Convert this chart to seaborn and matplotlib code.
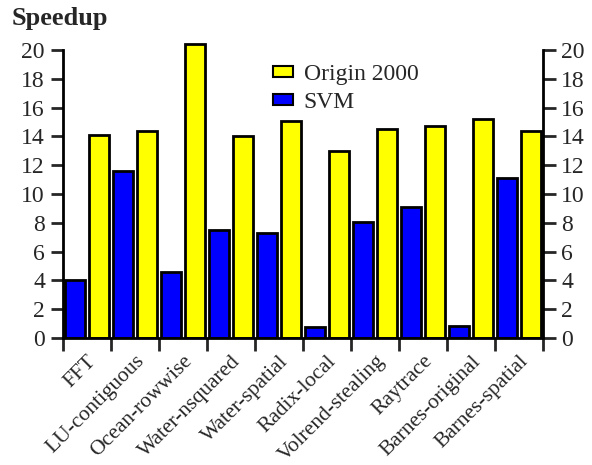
import numpy as np
import pandas as pd
import matplotlib
matplotlib.use('Agg')
import matplotlib.pyplot as plt
import seaborn as sns
from matplotlib.patches import Patch

apps = ['FFT', 'LU-contiguous', 'Ocean-rowwise', 'Water-nsquared', 'Water-spatial',
        'Radix-local', 'Volrend-stealing', 'Raytrace', 'Barnes-original', 'Barnes-spatial']
svm = [4.0, 11.6, 4.6, 7.5, 7.3, 0.75, 8.05, 9.1, 0.85, 11.1]
origin = [14.1, 14.35, 20.45, 14.0, 15.1, 13.0, 14.5, 14.75, 15.2, 14.35]

df = pd.DataFrame({'app': apps * 2,
                   'speedup': svm + origin,
                   'system': ['SVM'] * len(apps) + ['Origin 2000'] * len(apps)})

sns.set_style('white')
plt.rcParams['font.family'] = ['Liberation Serif', 'DejaVu Serif']
fs = 17

fig = plt.figure(figsize=(5.92, 4.65), dpi=100)
ax = fig.add_axes([63/592, 1 - 338/465, 480/592, 20.5*14.4/465])
colors = {'SVM': '#0000ff', 'Origin 2000': '#ffff00'}
sns.barplot(data=df, x='app', y='speedup', hue='system', hue_order=['SVM', 'Origin 2000'],
            palette=colors, width=1.0, gap=0.2, edgecolor='black', linewidth=2,
            saturation=1, legend=False, ax=ax)

ax.set_xlim(-0.5, len(apps) - 0.5)
ax.set_ylim(0, 20.5)
ax.set_xlabel('')
ax.set_ylabel('')
ax.set_yticks(np.arange(0, 21, 2))
ax.tick_params(axis='y', direction='out', length=9, width=2, labelsize=fs, pad=4, left=True)
ax.set_xticks(np.arange(len(apps)))
ax.set_xticklabels(apps, rotation=45, ha='right', rotation_mode='anchor', fontsize=15.5)
ax.tick_params(axis='x', which='major', length=0, pad=10)
ax.set_xticks(np.arange(-0.5, len(apps)), minor=True)
ax.tick_params(axis='x', which='minor', direction='out', length=9, width=2, bottom=True)

ax.spines['top'].set_visible(False)
ax.spines['right'].set_visible(False)
for s in ['left', 'bottom']:
    ax.spines[s].set_linewidth(2)
    ax.spines[s].set_color('black')
ax.spines['left'].set_bounds(0, 20)

ax2 = ax.twinx()
ax2.set_ylim(0, 20.5)
ax2.set_yticks(np.arange(0, 21, 2))
ax2.tick_params(axis='y', direction='out', length=9, width=2, labelsize=fs, pad=4, right=True)
for s in ['top', 'left', 'bottom']:
    ax2.spines[s].set_visible(False)
ax2.spines['right'].set_linewidth(2)
ax2.spines['right'].set_color('black')
ax2.spines['right'].set_bounds(0, 20)

handles = [Patch(facecolor=colors['Origin 2000'], edgecolor='black', linewidth=1.5),
           Patch(facecolor=colors['SVM'], edgecolor='black', linewidth=1.5)]
ax.legend(handles, ['Origin 2000', 'SVM'], loc='upper left', bbox_to_anchor=(0.4375, 0.928),
          frameon=False, fontsize=fs, handlelength=0.85, handleheight=0.3,
          handletextpad=0.45, labelspacing=0.3, borderaxespad=0, borderpad=0)

fig.text(12/592, 1 - 19/465, 'Speedup', fontsize=19, fontweight='bold', va='center', ha='left')

fig.savefig('out.png', dpi=100)
